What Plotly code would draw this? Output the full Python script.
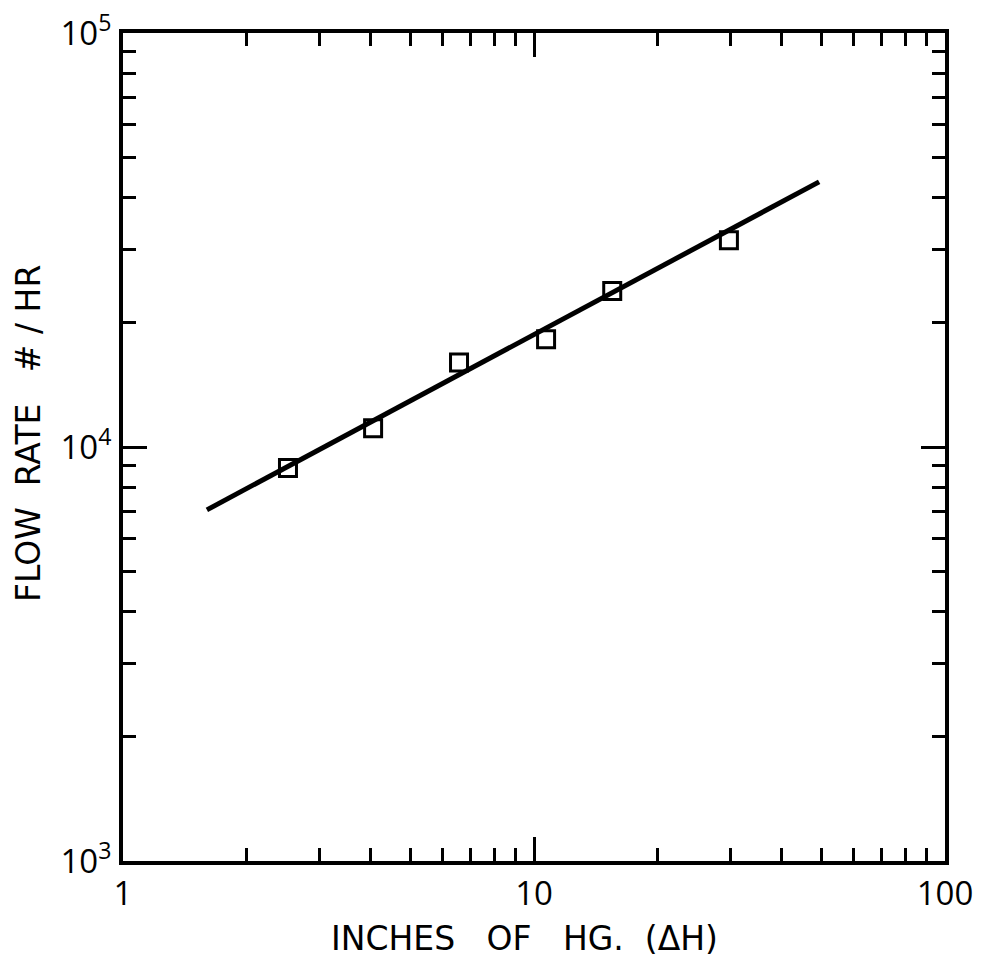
import plotly.graph_objects as go

# Data
pressure_inhg = [2.52, 4.06, 6.57, 10.7, 15.5, 29.8]
flow_rate = [8900, 11100, 16000, 18200, 23800, 31600]

fit_x = [1.60, 49.4]
fit_y = [7050, 43700]

x_tickvals = [1, 10, 100]
x_ticktext = ["1", "10", "100"]
y_tickvals = [1e3, 1e4, 1e5]
y_ticktext = ["10<sup>3</sup>", "10<sup>4</sup>", "10<sup>5</sup>"]

x_minor = [2, 3, 4, 5, 6, 7, 8, 9, 20, 30, 40, 50, 60, 70, 80, 90]
y_minor = [2000, 3000, 4000, 5000, 6000, 7000, 8000, 9000,
           20000, 30000, 40000, 50000, 60000, 70000, 80000, 90000]

TICKFONT = "Open Sans"
TITLEFONT = "DejaVu Sans"
NB = "\u00a0"

fig = go.Figure()
fig.add_trace(go.Scatter(x=fit_x, y=fit_y, mode="lines",
                         line=dict(color="black", width=5), showlegend=False))
fig.add_trace(go.Scatter(x=pressure_inhg, y=flow_rate, mode="markers",
                         marker=dict(symbol="square-open", size=17, color="black",
                                     line=dict(width=3, color="black")),
                         showlegend=False))

W, H = 982, 962
L, R, T, B = 123, 37, 33, 101

axis_common = dict(
    showgrid=False, zeroline=False, showline=True, linecolor="black", linewidth=4,
    mirror="ticks", ticks="inside", ticklen=24, tickwidth=2.5, tickcolor="black",
    automargin=False, ticklabeloverflow="allow",
    tickfont=dict(family=TICKFONT, size=33, color="black"),
)

fig.update_xaxes(type="log", range=[0, 2], tickmode="array",
                 tickvals=x_tickvals, ticktext=x_ticktext, ticklabelstandoff=0,
                 minor=dict(tickmode="array", tickvals=x_minor, ticks="inside",
                            ticklen=13, tickwidth=2.5, tickcolor="black"),
                 **axis_common)
fig.update_yaxes(type="log", range=[3, 5], tickmode="array",
                 tickvals=y_tickvals, ticktext=y_ticktext, ticklabelstandoff=1,
                 minor=dict(tickmode="array", tickvals=y_minor, ticks="inside",
                            ticklen=13, tickwidth=2.5, tickcolor="black"),
                 **axis_common)

pw, ph = W - L - R, H - T - B
x_title = "INCHES" + NB * 3 + "OF" + NB * 3 + "HG." + NB * 2 + "(ΔH)"
y_title = "FLOW" + NB * 2 + "RATE" + NB * 3 + "#" + NB + "/" + NB + "HR"
fig.add_annotation(text=x_title, xref="paper", yref="paper",
                   x=(524 - L) / pw, y=(861 - 938) / ph, showarrow=False,
                   font=dict(family=TITLEFONT, size=33, color="black"),
                   xanchor="center", yanchor="middle")
fig.add_annotation(text=y_title, xref="paper", yref="paper",
                   x=(28 - L) / pw, y=(861 - 434) / ph, showarrow=False, textangle=-90,
                   font=dict(family=TITLEFONT, size=33, color="black"),
                   xanchor="center", yanchor="middle")

fig.update_layout(width=W, height=H, margin=dict(l=L, r=R, t=T, b=B, autoexpand=False),
                  plot_bgcolor="white", paper_bgcolor="white")
fig.write_html("out.html", config={"displayModeBar": False},
               post_script="document.body.style.margin='0';document.body.style.overflow='hidden';")
